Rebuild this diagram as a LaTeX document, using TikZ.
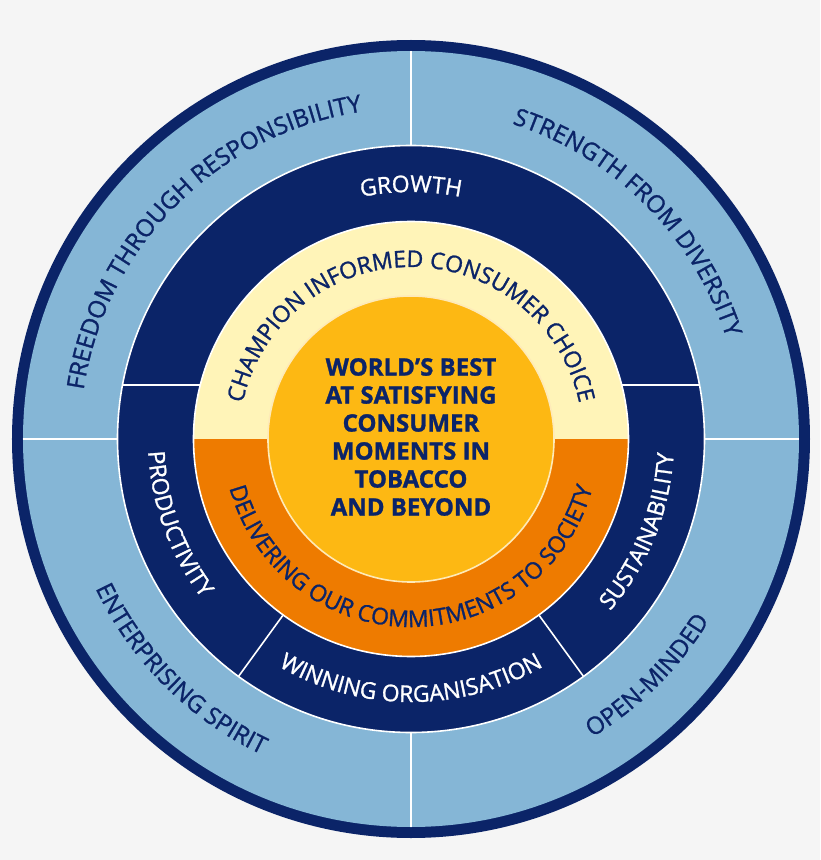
\documentclass[tikz,border=0pt]{standalone}
\usepackage{fontspec}
\setmainfont{Open Sans}[FakeBold=1.2, UprightFeatures={FakeBold=1.2}]
\usetikzlibrary{decorations.text}
\definecolor{navy}{HTML}{0B2468}
\definecolor{skyblue}{HTML}{85B6D6}
\definecolor{paleyellow}{HTML}{FFF4B8}
\definecolor{deeporange}{HTML}{EE7B00}
\definecolor{gold}{HTML}{FDB813}
\begin{document}
\begin{tikzpicture}[x=1pt, y=1pt,
  sep/.style={white, line width=1.6pt},
  outtext/.style={decorate, decoration={text along path, text align=center, text color=navy, text={|\fontsize{24}{24}\selectfont|#1}}},
  whitetext/.style={decorate, decoration={text along path, text align=center, text color=white, text={|\fontsize{23}{23}\selectfont|#1}}},
  navytext/.style={decorate, decoration={text along path, text align=center, text color=navy, text={|\fontsize{23}{23}\selectfont|#1}}}]
  \useasboundingbox (-411,-421) rectangle (409,439);
  \fill[white!96!black] (-411,-421) rectangle (409,439);
  % rings
  \fill[navy] (0,0) circle (399);
  \fill[skyblue] (0,0) circle (388);
  \draw[sep] (0,0) -- (0,388) (0,0) -- (0,-388) (-388,0) -- (388,0);
  \fill[navy] (0,0) circle (293.5);
  \draw[sep] (0,0) circle (293.5);
  \fill[paleyellow] (0,0) circle (217.5);
  \fill[deeporange] (-217.5,0) arc[start angle=180, end angle=360, radius=217.5] -- cycle;
  \draw[sep] (0,0) circle (217.5);
  \draw[sep] (-288,54) -- (-210.7,54) (210.7,54) -- (288,54);
  \draw[sep] (234:218) -- (234:293) (306:218) -- (306:293);
  \fill[gold] (0,0) circle (143);
  \draw[white!70!gold, line width=1.6pt] (0,0) circle (143);
  % outer values
  \path[outtext={FREEDOM THROUGH RESPONSIBILITY}] (225:331) arc[start angle=225, end angle=45, radius=331];
  \path[outtext={STRENGTH FROM DIVERSITY}] (135:331) arc[start angle=135, end angle=-45, radius=331];
  \path[outtext={ENTERPRISING SPIRIT}] (135:349) arc[start angle=135, end angle=315, radius=349];
  \path[outtext={OPEN-MINDED}] (225:349) arc[start angle=225, end angle=405, radius=349];
  % strategy ring
  \path[whitetext={GROWTH}] (180:247) arc[start angle=180, end angle=0, radius=247];
  \path[whitetext={PRODUCTIVITY}] (110:263) arc[start angle=110, end angle=290, radius=263];
  \path[whitetext={WINNING ORGANISATION}] (180:263) arc[start angle=180, end angle=360, radius=263];
  \path[whitetext={SUSTAINABILITY}] (248:263) arc[start angle=248, end angle=428, radius=263];
  % inner ring
  \path[navytext={CHAMPION INFORMED CONSUMER CHOICE}] (180:172) arc[start angle=180, end angle=0, radius=172];
  \path[navytext={DELIVERING OUR COMMITMENTS TO SOCIETY}] (180:188) arc[start angle=180, end angle=360, radius=188];
  \node[navy, align=center, font=\fontsize{24}{28}\bfseries] (core) at (0,2)
    {WORLD’S BEST\\AT SATISFYING\\CONSUMER\\MOMENTS IN\\TOBACCO\\AND BEYOND};
\end{tikzpicture}
\end{document}
